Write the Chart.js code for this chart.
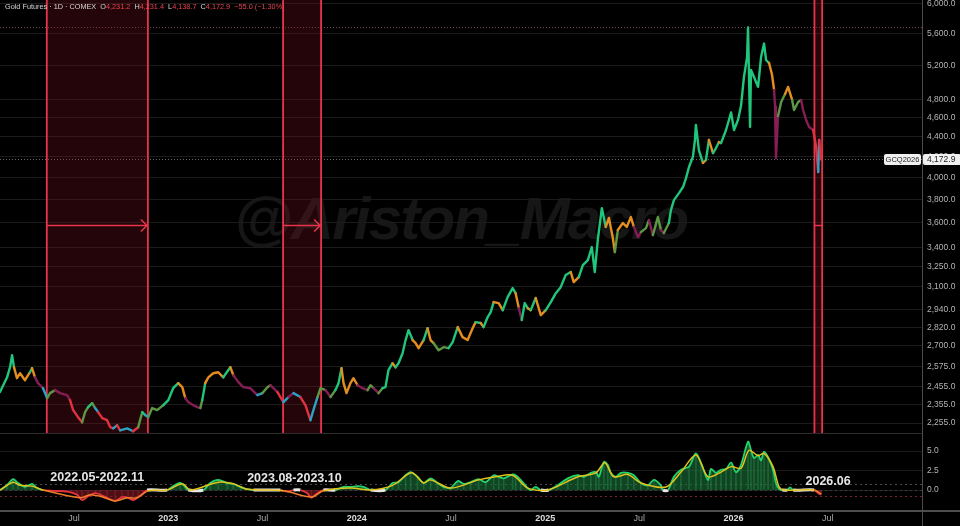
<!DOCTYPE html>
<html>
<head>
<meta charset="utf-8">
<script src="https://cdn.jsdelivr.net/npm/chart.js@4.4.1/dist/chart.umd.min.js"></script>
<style>
  html,body{margin:0;padding:0;background:#000;}
  body{width:960px;height:526px;position:relative;overflow:hidden;font-family:"Liberation Sans",Arial,sans-serif;}
  #wm{position:absolute;left:234px;top:189px;font-family:"Liberation Sans",Arial,sans-serif;font-weight:bold;font-style:italic;font-size:60px;line-height:60px;letter-spacing:-1.8px;color:#161616;white-space:nowrap;z-index:0;}
  canvas{position:absolute;left:0;z-index:1;}
  #cTop{top:0}
  #cBot{top:433px}
  #hdr{position:absolute;left:5px;top:2px;z-index:2;font-size:7.3px;line-height:10px;color:#d6d6d6;white-space:nowrap;}
  #hdr .r{color:#e8434f}
</style>
</head>
<body>
<div id="wm">@Ariston_Macro</div>
<canvas id="cTop" width="960" height="433"></canvas>
<canvas id="cBot" width="960" height="93"></canvas>
<div id="hdr">Gold Futures · 1D · COMEX&nbsp;&nbsp;O<span class="r">4,231.2</span>&nbsp;&nbsp;H<span class="r">4,231.4</span>&nbsp;&nbsp;L<span class="r">4,138.7</span>&nbsp;&nbsp;C<span class="r">4,172.9</span>&nbsp;&nbsp;<span class="r">−55.0 (−1.30%)</span></div>
<script>
// ---------- DATA (x in months since Jan 2022) ----------
const priceMonths = [1.28,1.73,1.92,2.05,2.17,2.36,2.56,2.87,3.19,3.32,
3.51,3.70,4.02,4.28,4.47,4.79,5.11,5.55,5.74,5.94,
6.25,6.51,6.70,6.89,7.15,7.34,7.53,7.79,8.10,8.30,
8.49,8.74,8.93,9.38,9.76,10.08,10.34,10.53,10.72,10.97,
11.29,11.68,12.00,12.31,12.63,12.89,13.08,13.27,13.59,13.84,
14.04,14.16,14.35,14.55,14.86,15.18,15.50,15.95,16.14,16.46,
16.78,17.22,17.67,17.99,18.31,18.50,18.95,19.33,19.65,19.97,
20.41,20.73,21.05,21.24,21.50,21.69,22.01,22.33,22.64,22.84,
23.03,23.16,23.35,23.60,23.79,24.05,24.37,24.69,24.88,25.07,
25.39,25.64,25.83,26.02,26.28,26.47,26.66,26.92,27.11,27.30,
27.56,27.75,27.94,28.26,28.51,28.70,28.89,29.21,29.53,29.85,
30.11,30.43,30.74,31.06,31.38,31.57,31.89,32.08,32.34,32.53,
32.72,33.04,33.30,33.61,33.93,34.12,34.32,34.51,34.70,34.89,
35.08,35.40,35.72,36.04,36.36,36.68,36.99,37.31,37.63,37.82,
38.14,38.40,38.72,38.97,39.16,39.35,39.61,39.86,40.06,40.31,
40.44,40.63,40.95,41.20,41.46,41.65,41.91,42.10,42.42,42.61,
42.86,43.18,43.37,43.56,43.88,44.01,44.20,44.52,44.78,44.97,
45.16,45.41,45.54,45.60,45.79,46.05,46.24,46.43,46.69,46.88,
47.07,47.20,47.52,47.84,48.03,48.28,48.47,48.66,48.86,48.92,
49.05,49.11,49.30,49.56,49.75,49.94,50.07,50.26,50.45,50.58,
50.64,50.70,50.83,51.03,51.28,51.47,51.73,51.85,52.11,52.30,
52.43,52.62,52.81,53.07,53.26,53.39,53.45,53.58];

const priceValues = [2424,2509,2569,2642,2569,2504,2533,2492,2539,2563,
2509,2475,2446,2390,2418,2435,2418,2407,2379,2324,
2286,2259,2313,2340,2362,2335,2313,2281,2270,2233,
2227,2243,2217,2227,2212,2233,2313,2297,2286,2335,
2324,2351,2379,2446,2475,2452,2390,2368,2351,2340,
2335,2379,2475,2509,2533,2539,2509,2569,2521,2481,
2452,2446,2407,2418,2452,2463,2424,2368,2396,2418,
2396,2351,2270,2324,2396,2446,2435,2396,2435,2475,
2563,2475,2418,2475,2504,2463,2446,2435,2463,2446,
2418,2446,2452,2551,2593,2569,2593,2654,2737,2801,
2737,2718,2686,2737,2814,2737,2718,2673,2692,2686,
2724,2821,2756,2737,2814,2854,2848,2821,2888,2921,
2991,2984,2935,3026,3090,3054,2949,2868,2984,2949,
2935,3019,2901,2935,2991,3054,3097,3186,3208,3134,
3171,3261,3299,3401,3208,3457,3725,3565,3640,3473,
3361,3539,3597,3565,3648,3565,3481,3522,3555,3622,
3497,3648,3539,3514,3597,3708,3795,3858,3913,3995,
4100,4198,4367,4523,4266,4139,4168,4367,4236,4286,
4346,4336,4470,4657,4470,4576,4724,5060,5300,5680,
4502,5143,5060,4944,5300,5470,5264,5227,5084,4908,
4724,4188,4620,4772,4863,4944,4795,4684,4772,4795,
4684,4576,4502,4470,4296,4052,4367,4173];

// regime colour code per bar: G green, O orange, M magenta, R red, C cyan, L olive
const priceColors = ("GGGGGOOOOG"+"OMMCLLMMMR"+"RRLLGLCRRR"+"RCRCCRLGCL"+"LLGGGOOMMM"+
"MLGOOOOGOM"+"MMMCLLMRCM"+"CRRCCLLMLG"+"GOOOOOMMLL"+"MLGGGOGGGG"+
"GOOOGOOLLL"+"GGOOOOGOGG"+"GOOGGGOMGG"+"OGOOGGGGGO"+"OGGGGGGGOO"+
"OLOOOOMMLL"+"MLLMLGGGGG"+"GGGGGGOGOG"+"GOGGGGGGGG"+"GGGGGGGGOO"+
"MMMLLOOLLL"+"MMMMRRCR").split("");

const priceTicks = [2255,2355,2455,2575,2700,2820,2940,3100,3250,3400,3600,3800,4000,4200,4400,4600,4800,5200,5600,6000];
const lastClose = 4172.9;
const allTimeHigh = 5680;

const regionStart = [4.26, 19.31, 53.15];
const regionEnd   = [10.70, 21.73, 53.64];
const arrowLevel  = 3580;

const oscMonths = [1.28,1.73,2.11,2.43,2.87,3.32,3.64,4.02,4.66,5.55,
6.19,6.51,6.89,7.34,7.66,8.10,8.61,9.06,9.44,9.76,
10.08,10.40,10.65,11.93,12.31,12.76,13.08,13.27,14.23,14.67,
15.18,15.76,16.14,16.59,17.03,17.42,19.14,19.58,19.97,20.41,
20.86,21.11,21.50,21.88,22.64,23.16,23.60,24.05,24.43,24.88,
25.83,26.28,26.66,27.11,27.43,27.87,28.26,28.70,29.15,29.53,
29.98,30.43,30.81,31.25,31.76,32.21,32.72,33.04,33.36,33.93,
34.12,34.44,34.89,35.08,35.40,35.72,36.23,36.80,37.44,38.08,
38.46,38.91,39.23,39.42,39.74,39.99,40.18,40.50,40.82,41.27,
41.65,42.10,42.54,42.93,43.37,43.50,43.82,44.20,44.65,45.16,
45.60,45.92,46.37,46.56,46.88,47.20,47.52,47.84,48.15,48.47,
48.92,49.11,49.30,49.56,49.75,49.94,50.20,50.51,50.70,50.90,
51.09,51.41,51.60,51.79,53.13,53.39,53.58];
const oscValues = [0,0.64,1.4,0.9,0.4,0.8,0.25,0,-0.1,-0.2,
-0.6,-1.3,-0.8,-0.4,-0.6,-1.0,-1.4,-0.9,-1.0,-1.3,
-0.9,-0.4,0,0,0.5,0.9,0.4,0,0,0.9,
1.3,0.9,0.8,0.4,0.1,0,0,-0.2,0,0,
-0.4,-1.0,-0.4,0,0,0.4,0.4,0.5,0.4,0,
0,0.9,1.0,1.9,2.3,1.7,0.9,1.5,0.9,0.4,
0.25,1.15,0.8,1.0,1.4,1.0,1.9,1.7,1.5,2.0,
1.9,1.3,0.25,0,0.4,0,0,0.6,1.5,1.9,
1.7,2.2,2.3,1.7,3.6,3.2,2.2,1.7,2.2,2.2,
1.9,0.9,0.6,1.3,0.6,0,0,1.7,2.6,3.0,
4.7,3.5,1.3,2.7,2.2,2.6,2.7,3.5,2.3,3.2,
6.2,5.1,4.1,4.5,3.8,4.9,4.2,2.6,0.9,0.1,
0,0,0.35,0,0,-0.4,-0.6];

const signalMonths = [1.28,2.11,2.56,3.32,4.02,6.38,7.02,7.66,8.61,9.38,
10.02,10.72,11.93,12.89,13.40,15.18,16.14,17.03,19.33,21.11,
21.88,23.60,24.88,26.28,27.49,28.26,28.70,29.98,31.76,32.85,
33.93,34.89,36.16,38.08,39.23,39.80,40.37,41.27,42.10,43.69,
44.65,45.60,46.37,47.20,47.84,48.47,48.98,49.56,49.94,50.51,
50.90,51.22,53.13,53.58];
const signalValues = [0,1.0,0.6,0.5,0,-1.0,-0.6,-0.8,-1.4,-1.0,
-1.0,-0.1,0,0.8,0,1.0,0.8,0.1,-0.1,-0.9,
-0.1,0.25,0,0.6,2.2,0.9,1.3,0.25,1.3,1.7,
1.9,0.25,0,1.7,2.2,3.5,1.7,2.0,0.9,0.4,
2.3,4.5,1.7,2.3,3.0,2.8,5.1,4.4,4.7,3.0,
0.4,0,0,-0.5];

const oscTicks = [0, 2.5, 5];
const bandUpper = 0.77, bandLower = -0.77;

const xTickMonths = [6,12,18,24,30,36,42,48,54];
const xTickLabels = ['Jul','2023','Jul','2024','Jul','2025','Jul','2026','Jul'];

const periodLabels = ['2022.05-2022.11','2023.08-2023.10','2026.06'];
const periodLabelMonths = [7.47, 20.03, 54.02];
const periodLabelLevels = [1.54, 1.41, 1.15];

// ---------- STYLE ----------
const COLORS = {G:'#1fc67b', O:'#e58e20', M:'#861d55', R:'#e2323f', C:'#2aa2c9', L:'#5c9744'};
const X_MIN = 1.28, X_MAX = 60.0;
const AXIS_W = 38;
const fmt = v => Number(v).toLocaleString('en-US',{minimumFractionDigits:1, maximumFractionDigits:1});

const topDeco = {
  id:'topDeco',
  beforeDatasetsDraw(chart){
    const {ctx, chartArea:a, scales:{x,y}} = chart;
    ctx.save();
    ctx.setLineDash([1,2]); ctx.lineWidth=1;
    let yy = Math.round(y.getPixelForValue(allTimeHigh))+0.5;
    ctx.strokeStyle='#6e4a4a'; ctx.beginPath(); ctx.moveTo(a.left,yy); ctx.lineTo(a.right,yy); ctx.stroke();
    yy = Math.round(y.getPixelForValue(lastClose))+0.5;
    ctx.strokeStyle='#6a6a6a'; ctx.beginPath(); ctx.moveTo(a.left,yy); ctx.lineTo(a.right,yy); ctx.stroke();
    ctx.setLineDash([]);
    for (let i=0;i<regionStart.length;i++){
      const x1 = x.getPixelForValue(regionStart[i]), x2 = x.getPixelForValue(regionEnd[i]);
      ctx.fillStyle='rgba(120,18,30,0.30)';
      ctx.fillRect(x1,a.top,x2-x1,a.bottom-a.top);
      ctx.strokeStyle='#e6354a'; ctx.lineWidth=1.8;
      ctx.beginPath(); ctx.moveTo(x1,a.top); ctx.lineTo(x1,a.bottom); ctx.moveTo(x2,a.top); ctx.lineTo(x2,a.bottom); ctx.stroke();
      const ay = Math.round(y.getPixelForValue(arrowLevel))+0.5;
      ctx.lineWidth=1.5;
      ctx.beginPath(); ctx.moveTo(x1,ay); ctx.lineTo(x2,ay);
      if (x2-x1>20){ ctx.moveTo(x2-7,ay-6); ctx.lineTo(x2-1,ay); ctx.lineTo(x2-7,ay+6); }
      ctx.stroke();
    }
    ctx.restore();
  },
  afterDraw(chart){
    const {ctx, chartArea:a, scales:{y}} = chart;
    ctx.save();
    const yy = y.getPixelForValue(lastClose);
    ctx.font='7.5px "Liberation Sans", Arial, sans-serif';
    ctx.textBaseline='middle';
    ctx.fillStyle='#f0f0f0';
    ctx.beginPath(); ctx.roundRect(a.right-38, yy-5.5, 37, 11, 2); ctx.fill();
    ctx.beginPath(); ctx.roundRect(a.right+1, yy-5.5, 38, 11, 2); ctx.fill();
    ctx.fillStyle='#202020'; ctx.textAlign='center';
    ctx.fillText('GCQ2026', a.right-19.5, yy+0.5);
    ctx.font='8.5px "Liberation Sans", Arial, sans-serif';
    ctx.textAlign='left';
    ctx.fillText(fmt(lastClose), a.right+5, yy+0.5);
    ctx.restore();
  }
};

const botDeco = {
  id:'botDeco',
  beforeDatasetsDraw(chart){
    const {ctx, chartArea:a, scales:{y}} = chart;
    ctx.save(); ctx.lineWidth=1; ctx.setLineDash([2,3]);
    [[bandUpper,'#4a4a4a'],[0,'#3c3c3c'],[bandLower,'#7a2530']].forEach(([v,col])=>{
      const yy=Math.round(y.getPixelForValue(v))+0.5;
      ctx.strokeStyle=col; ctx.beginPath(); ctx.moveTo(a.left,yy); ctx.lineTo(a.right,yy); ctx.stroke();
    });
    ctx.restore();
  },
  afterDraw(chart){
    const {ctx, chartArea:a, scales:{x,y}} = chart;
    ctx.save();
    ctx.fillStyle='#2c2c2c'; ctx.fillRect(0,0,a.right,1);
    ctx.fillStyle='#4d4d4d'; ctx.fillRect(0,a.bottom,chart.width,2);
    ctx.fillRect(a.right,0,1,chart.height);
    ctx.font='bold 12.5px "Liberation Sans", Arial, sans-serif';
    ctx.fillStyle='#e6e6e6'; ctx.textAlign='center'; ctx.textBaseline='middle';
    periodLabels.forEach((t,i)=> ctx.fillText(t, x.getPixelForValue(periodLabelMonths[i]), y.getPixelForValue(periodLabelLevels[i])));
    ctx.restore();
  }
};

const nP = Math.min(priceMonths.length, priceValues.length);
new Chart(document.getElementById('cTop'), {
  type:'line',
  data:{ datasets:[{
    data: priceMonths.slice(0,nP).map((m,i)=>({x:m, y:priceValues[i]})),
    borderWidth:2.4, pointRadius:0, tension:0, borderJoinStyle:'round', borderCapStyle:'round',
    borderColor: COLORS.G,
    segment:{ borderColor: c => COLORS[priceColors[c.p1DataIndex]] || COLORS.G }
  }]},
  options:{
    responsive:false, animation:false, events:[],
    layout:{padding:0},
    plugins:{legend:{display:false}, tooltip:{enabled:false}},
    scales:{
      x:{type:'linear', min:X_MIN, max:X_MAX, display:false},
      y:{type:'logarithmic', position:'right', min:2203, max:6056,
        afterBuildTicks: s => { s.ticks = priceTicks.map(v=>({value:v})); },
        afterFit: s => { s.width = AXIS_W; s.paddingTop = 0; s.paddingBottom = 0; },
        ticks:{ color:'#b4b4b4', font:{size:8.5, family:'"Liberation Sans", Arial, sans-serif'}, padding:5, autoSkip:false, callback: v => fmt(v) },
        grid:{ color:'#1b1b1b', drawTicks:false, lineWidth:1 },
        border:{ color:'#4d4d4d', width:1 }
      }
    }
  },
  plugins:[topDeco]
});

const oscPts = oscMonths.map((m,i)=>({x:m, y:oscValues[i]}));
new Chart(document.getElementById('cBot'), {
  type:'line',
  data:{ datasets:[
    { type:'bar', data: oscPts, barThickness:1, grouped:false, order:3,
      backgroundColor: c => (c.raw && c.raw.y<0) ? 'rgba(210,60,70,0.4)' : 'rgba(70,210,120,0.4)' },
    { data: oscPts, borderWidth:1.8, pointRadius:0, tension:0.3, order:2,
      fill:{target:'origin', above:'rgba(26,110,56,0.62)', below:'rgba(125,24,34,0.62)'},
      borderColor:'#22d36b',
      segment:{
        borderColor: c => { const a=c.p0.parsed.y, b=c.p1.parsed.y; if (a===0 && b===0) return '#e8e8e8'; return (a+b)/2 < 0 ? '#e5333f' : '#22d36b'; },
        borderWidth: c => (c.p0.parsed.y===0 && c.p1.parsed.y===0) ? 3 : 1.8
      } },
    { data: signalMonths.map((m,i)=>({x:m, y:signalValues[i]})), borderColor:'#e3c21c', borderWidth:1.5, pointRadius:0, tension:0.3, fill:false, order:1,
      segment:{ borderColor: c => ((c.p0.parsed.y + c.p1.parsed.y)/2 < -0.05) ? '#f07f2a' : '#e3c21c' } }
  ]},
  options:{
    responsive:false, animation:false, events:[],
    layout:{padding:0},
    plugins:{legend:{display:false}, tooltip:{enabled:false}},
    scales:{
      x:{type:'linear', min:X_MIN, max:X_MAX, offset:false,
        afterBuildTicks: s => { s.ticks = xTickMonths.map(v=>({value:v})); },
        afterFit: s => { s.height = 16; s.paddingLeft = 0; s.paddingRight = 0; },
        ticks:{ autoSkip:false, maxRotation:0, padding:3,
          callback: (v,i) => xTickLabels[i],
          color: c => /^\d/.test(xTickLabels[c.index]) ? '#dedede' : '#a8a8a8',
          font: c => ({ size:9, family:'"Liberation Sans", Arial, sans-serif', weight: /^\d/.test(xTickLabels[c.index]) ? 'bold' : 'normal' }) },
        grid:{ display:false, drawTicks:false },
        border:{ display:false }
      },
      y:{type:'linear', position:'right', min:-2.56, max:7.31,
        afterBuildTicks: s => { s.ticks = oscTicks.map(v=>({value:v})); },
        afterFit: s => { s.width = AXIS_W; s.paddingTop = 0; s.paddingBottom = 0; },
        ticks:{ color:'#b4b4b4', font:{size:8.5, family:'"Liberation Sans", Arial, sans-serif'}, padding:5, autoSkip:false, callback: v => Number(v).toFixed(1) },
        grid:{ color:'#1b1b1b', drawTicks:false },
        border:{ display:false }
      }
    }
  },
  plugins:[botDeco]
});
</script>
</body>
</html>
